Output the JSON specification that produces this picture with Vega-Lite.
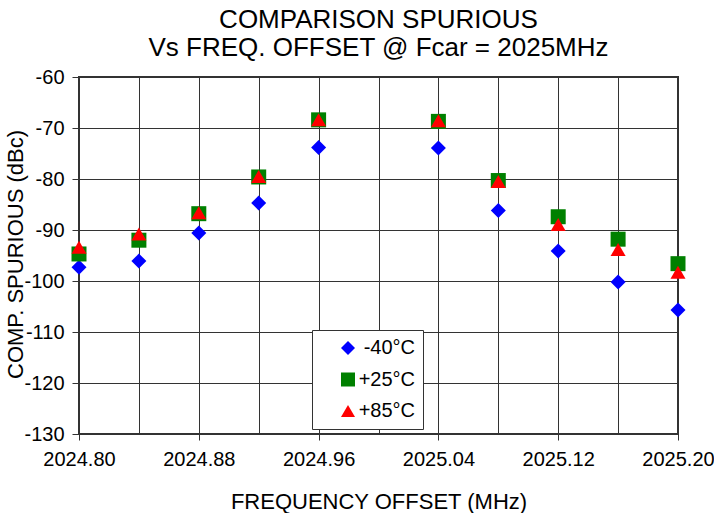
{
  "$schema": "https://vega.github.io/schema/vega-lite/v6.json",
  "width": 599,
  "height": 357,
  "autosize": "none",
  "padding": {"left": 79, "top": 77, "right": 36, "bottom": 79},
  "background": "white",
  "config": {
    "font": "Liberation Sans",
    "view": {"stroke": "#333", "strokeWidth": 2}
  },
  "title": {
    "text": ["COMPARISON SPURIOUS", "Vs FREQ. OFFSET @ Fcar = 2025MHz"],
    "fontSize": 26,
    "fontWeight": "normal",
    "color": "black",
    "lineHeight": 28.5,
    "anchor": "middle",
    "offset": 6
  },
  "data": {
    "values": [
      {"freq": 2024.80, "temp": "-40°C", "spur": -97.3},
      {"freq": 2024.84, "temp": "-40°C", "spur": -96.1},
      {"freq": 2024.88, "temp": "-40°C", "spur": -90.6},
      {"freq": 2024.92, "temp": "-40°C", "spur": -84.7},
      {"freq": 2024.96, "temp": "-40°C", "spur": -73.8},
      {"freq": 2025.04, "temp": "-40°C", "spur": -73.9},
      {"freq": 2025.08, "temp": "-40°C", "spur": -86.2},
      {"freq": 2025.12, "temp": "-40°C", "spur": -94.1},
      {"freq": 2025.16, "temp": "-40°C", "spur": -100.2},
      {"freq": 2025.20, "temp": "-40°C", "spur": -105.7},
      {"freq": 2024.80, "temp": "+25°C", "spur": -94.7},
      {"freq": 2024.84, "temp": "+25°C", "spur": -92.0},
      {"freq": 2024.88, "temp": "+25°C", "spur": -86.8},
      {"freq": 2024.92, "temp": "+25°C", "spur": -79.6},
      {"freq": 2024.96, "temp": "+25°C", "spur": -68.4},
      {"freq": 2025.04, "temp": "+25°C", "spur": -68.7},
      {"freq": 2025.08, "temp": "+25°C", "spur": -80.3},
      {"freq": 2025.12, "temp": "+25°C", "spur": -87.4},
      {"freq": 2025.16, "temp": "+25°C", "spur": -91.8},
      {"freq": 2025.20, "temp": "+25°C", "spur": -96.6},
      {"freq": 2024.80, "temp": "+85°C", "spur": -93.4},
      {"freq": 2024.84, "temp": "+85°C", "spur": -90.8},
      {"freq": 2024.88, "temp": "+85°C", "spur": -86.6},
      {"freq": 2024.92, "temp": "+85°C", "spur": -79.5},
      {"freq": 2024.96, "temp": "+85°C", "spur": -68.4},
      {"freq": 2025.04, "temp": "+85°C", "spur": -68.6},
      {"freq": 2025.08, "temp": "+85°C", "spur": -80.5},
      {"freq": 2025.12, "temp": "+85°C", "spur": -88.9},
      {"freq": 2025.16, "temp": "+85°C", "spur": -93.8},
      {"freq": 2025.20, "temp": "+85°C", "spur": -98.3}
    ]
  },
  "mark": {"type": "point", "filled": true, "opacity": 1, "size": 225, "strokeWidth": 0},
  "encoding": {
    "x": {
      "field": "freq",
      "type": "quantitative",
      "scale": {"domain": [2024.8, 2025.2], "nice": false, "zero": false},
      "axis": {
        "title": "FREQUENCY OFFSET (MHz)",
        "titleFontSize": 22,
        "titleFontWeight": "normal",
        "titleColor": "black",
        "titleBaseline": "alphabetic",
        "titleY": 74,
        "values": [2024.80, 2024.84, 2024.88, 2024.92, 2024.96, 2025.00, 2025.04, 2025.08, 2025.12, 2025.16, 2025.20],
        "format": ".2f",
        "labelExpr": "indexof(['2024.80','2024.88','2024.96','2025.04','2025.12','2025.20'], datum.label) >= 0 ? datum.label : ''",
        "labelOverlap": false,
        "labelFlush": false,
        "labelFontSize": 20,
        "labelColor": "black",
        "labelPadding": 9,
        "tickColor": "#333",
        "tickSize": {"condition": {"test": "indexof(['2024.80','2024.88','2024.96','2025.04','2025.12','2025.20'], format(datum.value, '.2f')) >= 0", "value": 6}, "value": 0},
        "grid": true,
        "gridColor": "#333",
        "gridOpacity": 1,
        "domain": false
      }
    },
    "y": {
      "field": "spur",
      "type": "quantitative",
      "scale": {"domain": [-130, -60], "nice": false, "zero": false},
      "axis": {
        "title": "COMP. SPURIOUS (dBc)",
        "titleFontSize": 22,
        "titleFontWeight": "normal",
        "titleColor": "black",
        "titleAngle": 270,
        "titleBaseline": "alphabetic",
        "titleAlign": "center",
        "titleX": -57,
        "titleY": 177,
        "values": [-130, -120, -110, -100, -90, -80, -70, -60],
        "labelExpr": "'' + datum.value",
        "labelFontSize": 20,
        "labelColor": "black",
        "labelPadding": 8,
        "tickColor": "#333",
        "tickSize": 7,
        "grid": true,
        "gridColor": "#333",
        "gridOpacity": 1,
        "domain": false
      }
    },
    "color": {
      "field": "temp",
      "type": "nominal",
      "scale": {"domain": ["-40°C", "+25°C", "+85°C"], "range": ["#0000ff", "#008000", "#ff0000"]},
      "legend": {
        "title": null,
        "orient": "none",
        "legendX": 233,
        "legendY": 253,
        "fillColor": "white",
        "strokeColor": "#333",
        "padding": 8,
        "labelFontSize": 20,
        "labelColor": "black",
        "labelAlign": "right",
        "symbolSize": 196,
        "symbolOffset": 18,
        "rowPadding": 11.5,
        "labelOffset": 57
      }
    },
    "shape": {
      "field": "temp",
      "type": "nominal",
      "scale": {"domain": ["-40°C", "+25°C", "+85°C"], "range": ["diamond", "square", "triangle-up"]}
    }
  }
}
